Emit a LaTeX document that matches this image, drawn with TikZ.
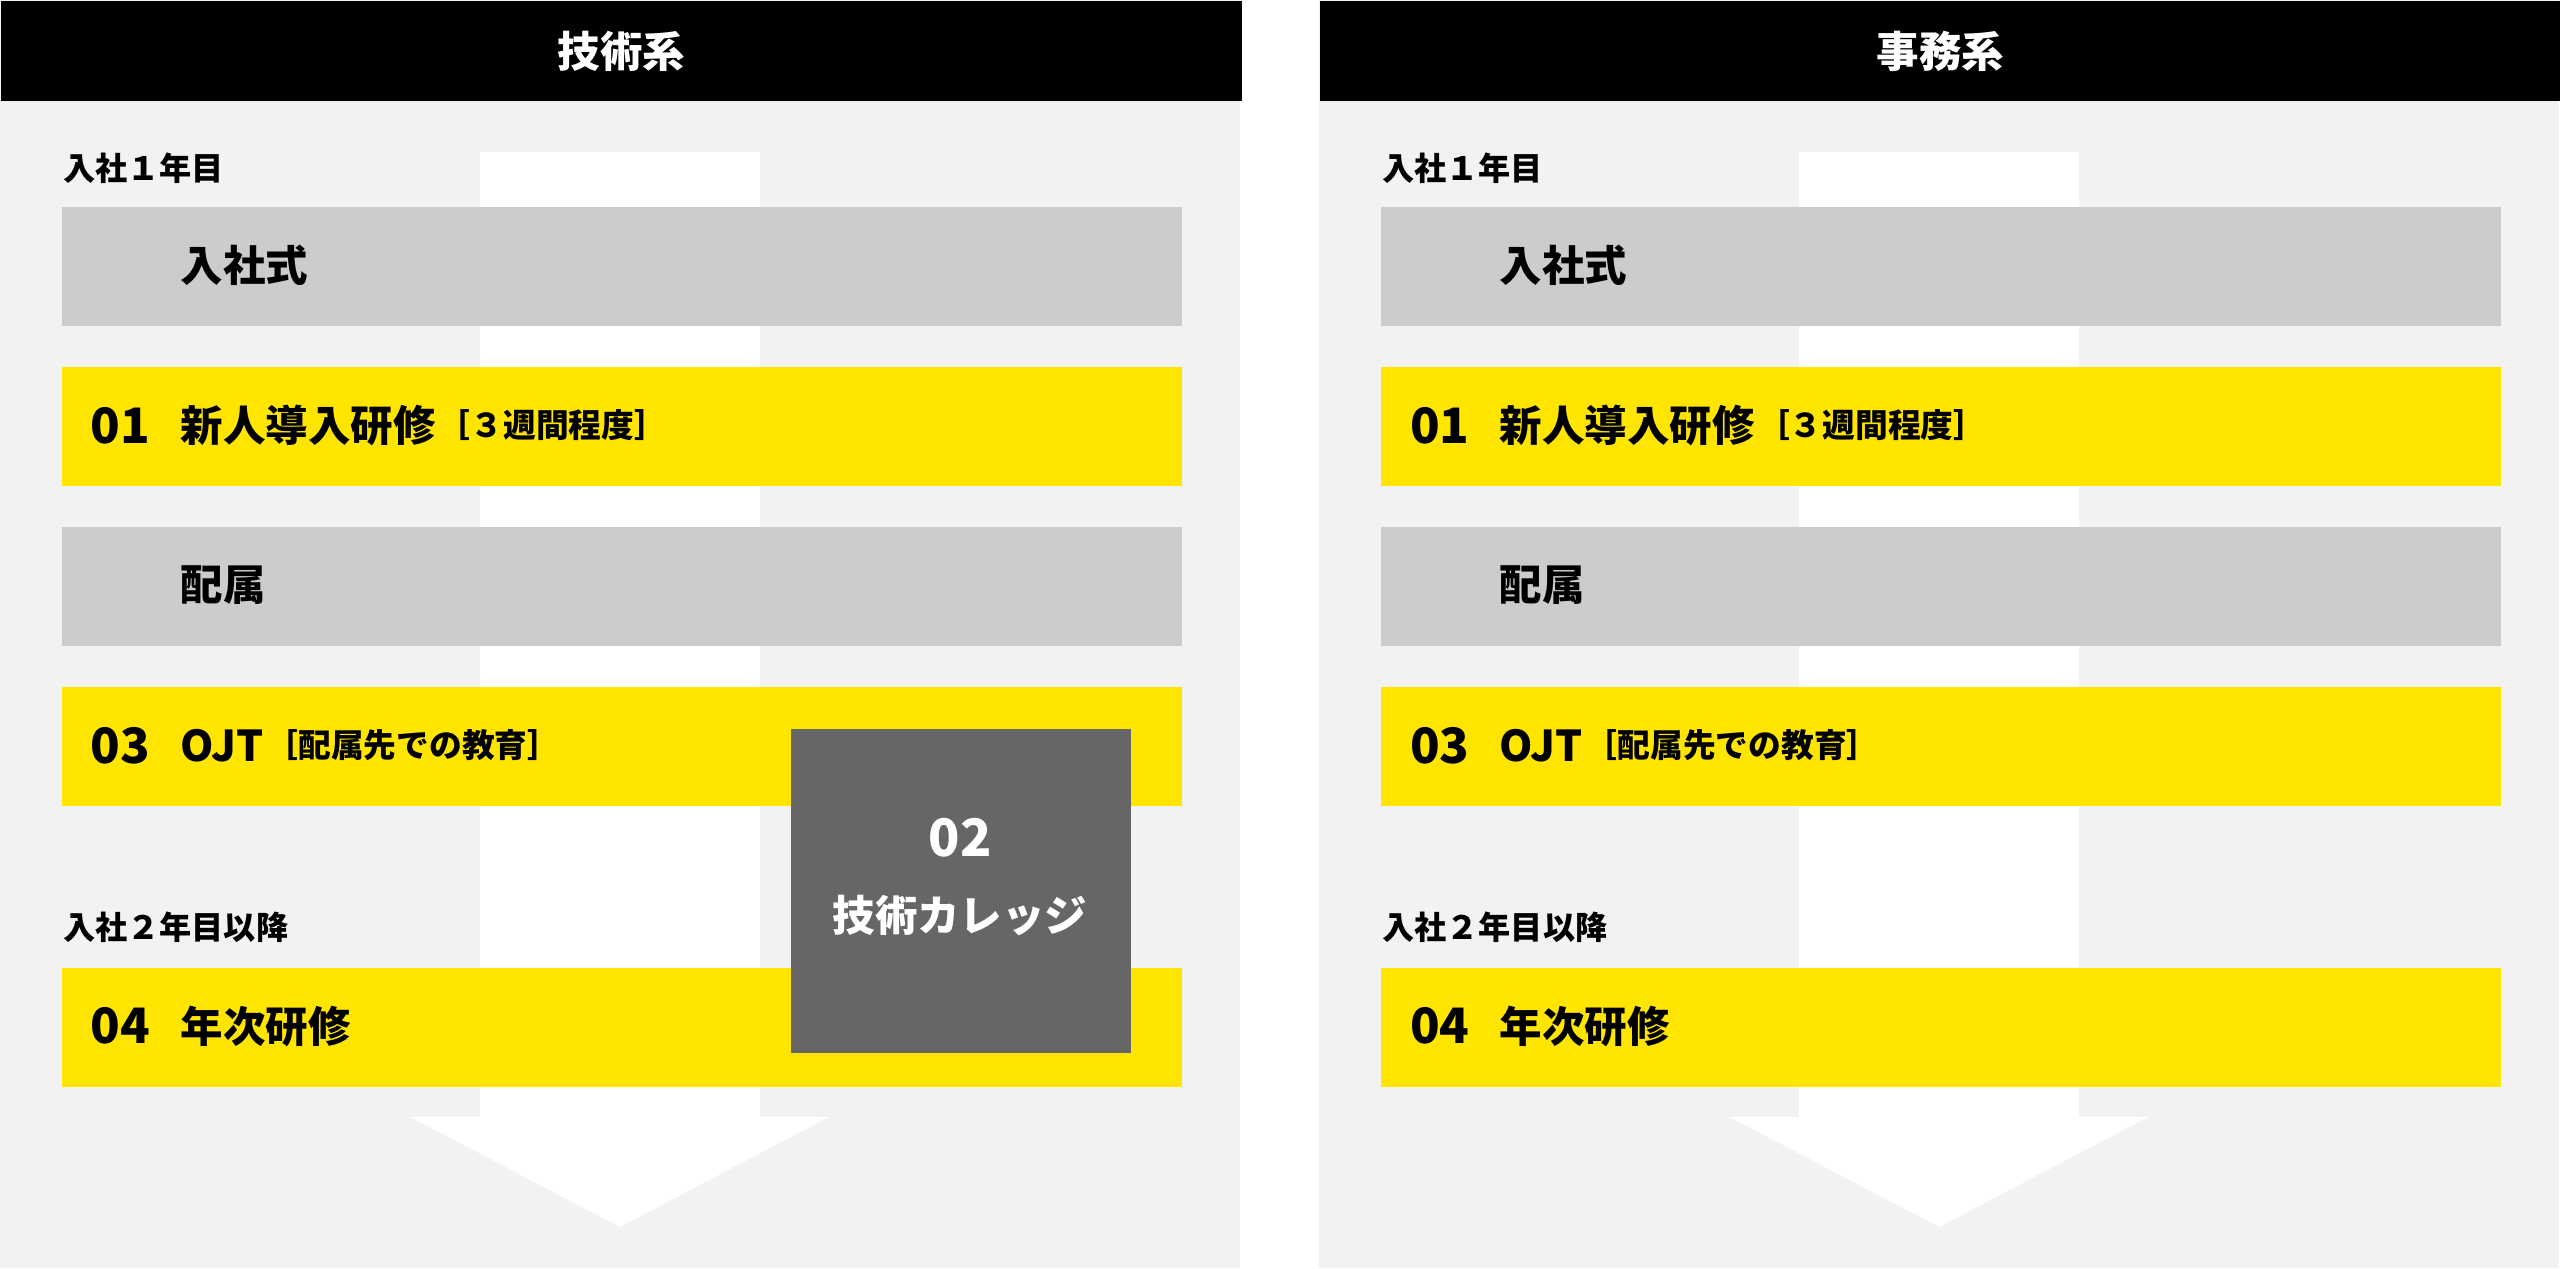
\documentclass[tikz,border=0pt]{standalone}
\usepackage{fontspec}
\setmainfont{Noto Sans CJK JP}
\usepackage{tikz}

\definecolor{bgray}{HTML}{F2F2F2}
\definecolor{lgray}{HTML}{CCCCCC}
\definecolor{dgray}{HTML}{666666}
\definecolor{yel}{HTML}{FFE500}

\begin{document}
\begin{tikzpicture}
    [x = 0.01cm, y = -0.01cm,
     bar/.style = {rectangle, inner sep = 0, anchor = north west,
       minimum width = 6.86cm, minimum height = 0.73cm},
     graybar/.style = {bar, fill = lgray},
     yelbar/.style = {bar, fill = yel},
     num/.style = {anchor = west, inner sep = 0, font = \fontsize{8.5}{9}\bfseries},
     ttl/.style = {anchor = west, inner sep = 0, font = \fontsize{7.4}{8}\bfseries},
     sub/.style = {anchor = west, inner sep = 0, font = \fontsize{5.7}{6}\bfseries},
     yr/.style = {anchor = west, inner sep = 0, font = \fontsize{5.6}{6}\bfseries}]
    \useasboundingbox (0,0) rectangle (1568,776.65);
    \fill[white] (0,0) rectangle (1568,776.65);
    \foreach \px/\head in {0/技術系, 808/事務系} {
      \begin{scope}[shift = {(\px,0)}]
        % panel and header
        \fill[bgray] (0,0) rectangle (759.5,776.65);
        \node[fill = black, inner sep = 0, minimum width = 7.595cm, minimum height = 0.61cm,
          anchor = north west] (head\px) at (0,0) {};
        \node[text = white, font = \fontsize{7.4}{8}\bfseries] (htxt\px) at (head\px.center) {\head};
        % big arrow
        \fill[white] (294,93) -- (465.5,93) -- (465.5,684) -- (508,684)
          -- (379.75,751.5) -- (251,684) -- (294,684) -- cycle;
        \node[yr] (y1\px) at (38,103) {入社１年目};
        \node[graybar] (shiki\px) at (37,126) {};
        \node[ttl] (shikit\px) at (110,162.5) {入社式};
        \node[yelbar] (k1\px) at (37,224) {};
        \node[num] (k1n\px) at (55,260.5) {01};
        \node[ttl] (k1t\px) at (110,260.5) {新人導入研修};
        \node[sub] (k1s\px) at (k1t\px.east) {［３週間程度］};
        \node[graybar] (haizoku\px) at (37,322) {};
        \node[ttl] (haizokut\px) at (110,358.5) {配属};
        \node[yelbar] (k3\px) at (37,420) {};
        \node[num] (k3n\px) at (55,456.5) {03};
        \node[ttl] (k3t\px) at (110,456.5) {OJT};
        \node[sub] (k3s\px) at (k3t\px.east) {［配属先での教育］};
        \node[yr] (y2\px) at (38,568) {入社２年目以降};
        \node[yelbar] (k4\px) at (37,592) {};
        \node[num] (k4n\px) at (55,628.5) {04};
        \node[ttl] (k4t\px) at (110,628.5) {年次研修};
      \end{scope}
    }
    % college box, left panel only
    \node[fill = dgray, inner sep = 0, minimum width = 2.08cm, minimum height = 1.98cm,
      anchor = north west] (college) at (484,446) {};
    \node[text = white, font = \fontsize{9}{9}\bfseries] (collegen) at (588,513) {02};
    \node[text = white, font = \fontsize{7.4}{8}\bfseries] (colleget) at (588,561) {技術カレッジ};
  \end{tikzpicture}
\end{document}
